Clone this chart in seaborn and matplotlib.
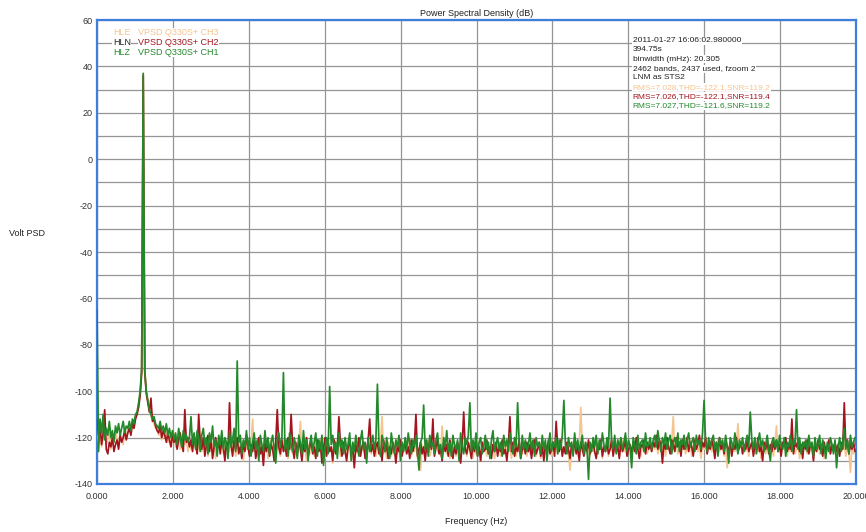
import numpy as np
import pandas as pd
import matplotlib
matplotlib.use("Agg")
import matplotlib.pyplot as plt
import seaborn as sns

# ---------------- data ----------------
BIN_HZ = 0.0406  # 2 x binwidth (fzoom 2)

hlz_ch1 = [  # green
    -65, -126, -112, -118, -110, -121, -116, -119, -113, -120, -117, -122, -115, -118, -114, -119, -116, -113, -118, -115,
    -116, -113, -117, -112, -114, -110, -109, -105, -100, -90, 37, -91, -100, -104, -108, -110, -112, -111, -114, -115,
    -116, -113, -117, -115, -118, -114, -119, -116, -120, -117, -121, -118, -123, -116, -120, -124, -117, -121, -119, -122,
    -120, -111, -123, -118, -125, -117, -121, -126, -119, -116, -123, -120, -127, -118, -122, -115, -124, -121, -128, -119,
    -123, -117, -125, -120, -122, -129, -118, -124, -121, -116, -126, -87, -122, -119, -127, -121, -124, -117, -125, -120,
    -128, -122, -118, -125, -121, -130, -119, -123, -126, -117, -124, -120, -127, -122, -119, -125, -131, -121, -118, -124,
    -120, -92, -125, -121, -128, -118, -123, -126, -120, -124, -129, -119, -122, -127, -117, -125, -121, -130, -123, -119,
    -126, -122, -118, -128, -121, -125, -119, -132, -124, -120, -127, -98, -123, -119, -126, -122, -129, -118, -124, -121,
    -127, -120, -125, -123, -118, -130, -122, -126, -119, -124, -128, -121, -117, -125, -122, -131, -120, -126, -123, -119,
    -125, -121, -97, -124, -128, -119, -122, -126, -120, -125, -129, -118, -123, -127, -121, -124, -119, -130, -122, -126,
    -120, -125, -118, -123, -127, -121, -124, -119, -126, -134, -122, -120, -106, -125, -121, -128, -119, -124, -122, -127,
    -121, -118, -125, -123, -129, -120, -124, -117, -126, -122, -128, -119, -123, -125, -121, -130, -118, -124, -127, -120,
    -123, -119, -105, -126, -121, -125, -118, -128, -122, -120, -127, -124, -119, -125, -122, -129, -121, -117, -126, -123,
    -120, -125, -122, -128, -119, -124, -121, -126, -118, -123, -127, -120, -124, -105, -122, -129, -119, -125, -121, -126,
    -123, -118, -125, -121, -128, -120, -124, -122, -127, -119, -125, -121, -130, -123, -118, -126, -122, -124, -120, -127,
    -121, -125, -119, -104, -123, -127, -120, -124, -122, -128, -118, -125, -121, -126, -123, -119, -127, -122, -124, -138,
    -122, -126, -120, -124, -119, -127, -121, -125, -118, -123, -126, -120, -124, -103, -122, -125, -119, -127, -121, -124,
    -120, -125, -122, -118, -126, -121, -124, -133, -120, -123, -127, -119, -125, -122, -121, -126, -118, -124, -123, -120,
    -125, -121, -119, -124, -117, -122, -126, -120, -123, -118, -125, -121, -119, -127, -122, -120, -124, -118, -126, -121,
    -123, -119, -125, -121, -118, -124, -122, -120, -126, -119, -123, -121, -125, -118, -104, -122, -126, -120, -124, -121,
    -119, -125, -122, -128, -120, -123, -121, -126, -119, -124, -131, -120, -122, -125, -118, -123, -127, -121, -124, -120,
    -126, -122, -119, -124, -109, -121, -125, -120, -127, -122, -118, -124, -121, -126, -123, -119, -125, -130, -122, -120,
    -124, -121, -126, -119, -123, -125, -120, -128, -122, -124, -119, -126, -121, -123, -108, -125, -120, -127, -122, -124,
    -121, -126, -119, -124, -122, -128, -120, -125, -123, -119, -127, -121, -124, -129, -122, -126, -120, -123, -127, -121,
    -133, -124, -120, -126, -122, -116, -125, -121, -127, -119, -124, -122, -120,
]

hln_ch2 = [  # dark red
    -112, -119, -115, -123, -118, -108, -125, -127, -122, -124, -120, -126, -123, -121, -125, -119, -122, -120, -117, -121,
    -118, -116, -119, -114, -116, -112, -110, -107, -102, -92, 36, -92, -101, -105, -109, -103, -113, -112, -115, -117,
    -118, -115, -120, -117, -119, -122, -118, -121, -124, -119, -122, -120, -125, -121, -118, -123, -126, -108, -122, -120,
    -124, -121, -126, -119, -123, -127, -110, -122, -125, -120, -128, -123, -119, -126, -121, -129, -124, -120, -125, -122,
    -127, -121, -124, -130, -122, -126, -105, -123, -128, -121, -125, -120, -127, -124, -129, -122, -126, -119, -124, -128,
    -123, -126, -121, -129, -125, -120, -127, -124, -132, -122, -126, -121, -128, -123, -125, -130, -122, -108, -124, -127,
    -121, -126, -123, -128, -120, -125, -110, -124, -129, -122, -127, -121, -125, -130, -123, -126, -120, -128, -124, -122,
    -127, -124, -129, -121, -126, -123, -131, -125, -120, -128, -122, -126, -124, -130, -121, -127, -125, -111, -123, -128,
    -122, -126, -130, -124, -121, -127, -125, -133, -123, -126, -120, -128, -124, -122, -129, -125, -121, -112, -126, -123,
    -128, -124, -122, -127, -125, -130, -121, -126, -123, -129, -124, -127, -122, -125, -131, -123, -126, -121, -128, -124,
    -122, -127, -124, -129, -121, -126, -123, -110, -128, -125, -122, -127, -124, -130, -123, -126, -121, -125, -112, -128,
    -124, -121, -127, -125, -130, -122, -126, -123, -128, -121, -125, -129, -124, -127, -122, -126, -131, -123, -109, -125,
    -127, -122, -125, -129, -123, -126, -121, -128, -124, -130, -122, -126, -125, -121, -127, -124, -129, -123, -126, -122,
    -128, -124, -126, -121, -127, -125, -130, -123, -111, -126, -122, -128, -124, -126, -121, -129, -125, -123, -127, -122,
    -126, -123, -129, -124, -121, -127, -125, -122, -128, -124, -130, -123, -126, -121, -127, -125, -122, -128, -113, -124,
    -126, -121, -128, -124, -127, -122, -125, -129, -123, -126, -121, -127, -124, -130, -122, -125, -128, -123, -126, -121,
    -127, -124, -122, -126, -129, -123, -125, -121, -128, -124, -126, -122, -127, -125, -121, -128, -123, -126, -124, -129,
    -122, -126, -124, -121, -128, -125, -123, -127, -122, -126, -120, -125, -129, -123, -124, -121, -127, -122, -125, -123,
    -126, -122, -124, -119, -125, -121, -123, -131, -122, -125, -120, -124, -127, -121, -123, -126, -120, -124, -122, -128,
    -121, -125, -123, -120, -126, -122, -124, -128, -121, -125, -123, -119, -126, -122, -124, -120, -127, -123, -125, -121,
    -124, -129, -122, -126, -120, -125, -123, -127, -121, -124, -126, -122, -128, -123, -125, -120, -126, -124, -122, -127,
    -123, -125, -121, -126, -124, -122, -128, -123, -125, -120, -126, -124, -130, -122, -125, -121, -127, -123, -126, -122,
    -125, -121, -126, -123, -128, -122, -124, -120, -126, -123, -125, -112, -127, -122, -124, -121, -126, -123, -129, -122,
    -125, -121, -127, -123, -124, -130, -122, -126, -121, -125, -123, -128, -122, -126, -124, -121, -127, -123, -125, -122,
    -126, -123, -128, -122, -125, -105, -124, -121, -127, -123, -125, -122, -126,
]

hle_ch3 = [  # light orange
    -117, -122, -119, -124, -120, -116, -123, -121, -118, -125, -119, -122, -117, -121, -124, -118, -120, -123, -116, -119,
    -117, -115, -118, -113, -115, -111, -109, -106, -101, -91, 36, -91, -100, -104, -108, -111, -112, -114, -116, -115,
    -119, -116, -121, -118, -120, -117, -122, -119, -123, -120, -118, -124, -121, -119, -125, -122, -120, -123, -121, -126,
    -122, -125, -120, -124, -121, -127, -123, -119, -126, -122, -124, -120, -128, -123, -121, -125, -122, -129, -124, -120,
    -125, -122, -127, -121, -124, -123, -126, -120, -125, -122, -128, -124, -121, -126, -123, -130, -122, -125, -121, -127,
    -123, -112, -125, -122, -128, -124, -121, -127, -123, -126, -122, -129, -124, -121, -126, -123, -127, -122, -125, -128,
    -124, -121, -126, -123, -129, -122, -125, -127, -121, -124, -128, -123, -113, -126, -122, -125, -130, -123, -127, -121,
    -125, -128, -122, -126, -124, -121, -127, -123, -129, -125, -122, -126, -124, -131, -123, -127, -121, -125, -128, -122,
    -126, -123, -128, -121, -125, -130, -124, -122, -127, -125, -121, -128, -123, -126, -124, -129, -122, -125, -127, -123,
    -124, -128, -122, -126, -123, -111, -127, -124, -129, -122, -125, -128, -123, -126, -121, -127, -124, -130, -122, -126,
    -123, -127, -125, -121, -128, -124, -126, -122, -129, -125, -134, -123, -127, -124, -126, -121, -128, -125, -123, -127,
    -122, -126, -124, -128, -115, -125, -121, -127, -123, -129, -124, -126, -122, -128, -125, -123, -127, -121, -126, -124,
    -128, -123, -126, -122, -129, -124, -127, -121, -125, -130, -123, -126, -124, -128, -122, -127, -125, -123, -129, -124,
    -126, -122, -128, -125, -123, -127, -121, -126, -124, -129, -122, -125, -128, -123, -126, -124, -127, -122, -125, -128,
    -123, -127, -124, -126, -121, -128, -125, -123, -129, -122, -126, -124, -127, -125, -122, -128, -124, -126, -123, -127,
    -125, -122, -128, -124, -126, -123, -127, -134, -125, -122, -126, -124, -128, -123, -107, -126, -124, -127, -122, -125,
    -128, -123, -126, -124, -121, -127, -125, -122, -129, -124, -126, -123, -128, -125, -122, -127, -124, -126, -123, -128,
    -124, -121, -126, -123, -128, -122, -125, -127, -123, -126, -121, -125, -124, -128, -122, -126, -123, -127, -125, -122,
    -126, -123, -125, -121, -127, -124, -122, -126, -123, -128, -121, -125, -124, -122, -111, -126, -123, -127, -124, -121,
    -125, -122, -127, -124, -126, -121, -128, -123, -125, -122, -126, -124, -129, -123, -125, -121, -127, -124, -122, -126,
    -123, -127, -124, -121, -126, -125, -122, -128, -124, -133, -125, -122, -127, -124, -126, -123, -114, -125, -122, -127,
    -124, -126, -122, -128, -123, -125, -121, -127, -124, -126, -123, -129, -122, -125, -127, -123, -126, -124, -122, -128,
    -123, -115, -126, -122, -127, -124, -125, -121, -128, -123, -126, -124, -122, -127, -125, -123, -129, -124, -126, -122,
    -125, -127, -123, -126, -122, -128, -124, -126, -121, -127, -125, -123, -129, -124, -126, -122, -127, -125, -123, -126,
    -124, -127, -122, -126, -125, -123, -128, -124, -126, -135, -123, -127, -124,
]

series_names = ["HLE", "HLN", "HLZ"]
series_desc = ["VPSD Q330S+ CH3", "VPSD Q330S+ CH2", "VPSD Q330S+ CH1"]
series_values = [hle_ch3, hln_ch2, hlz_ch1]

x_ticks = [0, 2, 4, 6, 8, 10, 12, 14, 16, 18, 20]
x_tick_labels = ["0.000", "2.000", "4.000", "6.000", "8.000", "10.000",
                 "12.000", "14.000", "16.000", "18.000", "20.000"]
y_ticks = [60, 40, 20, 0, -20, -40, -60, -80, -100, -120, -140]

info_lines = ["2011-01-27 16:06:02.980000", "394.75s", "binwidth (mHz): 20.305",
              "2462 bands, 2437 used, fzoom 2", "LNM as STS2"]
stat_lines = ["RMS=7.028,THD=-122.1,SNR=119.2",
              "RMS=7.026,THD=-122.1,SNR=119.4",
              "RMS=7.027,THD=-121.6,SNR=119.2"]

# ---------------- style ----------------
sns.set_style("white")
plt.rcParams["font.family"] = ["Liberation Sans", "DejaVu Sans"]
plt.rcParams["axes.unicode_minus"] = False

colors = ["#f6c48e", "#a3141e", "#23882a"]
name_colors = ["#f6c48e", "#222222", "#23882a"]
text_colors = ["#f6c48e", "#a3141e", "#23882a"]

fig = plt.figure(figsize=(8.66, 5.32), dpi=100)
ax = fig.add_axes([97 / 866, 48 / 532, 759 / 866, 464 / 532])

frames = []
for name, vals in zip(series_names, series_values):
    frames.append(pd.DataFrame({"freq": np.arange(len(vals)) * BIN_HZ,
                                "psd": vals, "chan": name}))
df = pd.concat(frames, ignore_index=True)

for name, col in zip(series_names, colors):
    sub = df[df["chan"] == name]
    sns.lineplot(data=sub, x="freq", y="psd", color=col, lw=1.25,
                 estimator=None, sort=False, ax=ax, legend=False, zorder=3)

ax.set_xlim(0, 20)
ax.set_ylim(-140, 60)
ax.set_xticks(x_ticks)
ax.set_xticklabels(x_tick_labels)
ax.set_yticks(y_ticks)
ax.set_yticks(np.arange(-130, 60, 20), minor=True)
ax.grid(True, which="both", color="#959595", lw=0.9, zorder=0)
ax.set_axisbelow(True)
ax.tick_params(axis="both", which="both", labelsize=6.5, colors="#333333",
               length=0, pad=3)
ax.tick_params(axis="x", pad=6)
for sp in ax.spines.values():
    sp.set_color("#3f7fdc")
    sp.set_linewidth(1.6)

ax.set_title("Power Spectral Density (dB)", fontsize=6.5, color="#222222", pad=3)
ax.set_xlabel("Frequency (Hz)", fontsize=6.5, color="#222222")
ax.xaxis.set_label_coords(0.5, -0.072)
ax.set_ylabel("Volt PSD", fontsize=6.5, color="#222222", rotation=0,
              ha="center", va="center")
ax.yaxis.set_label_coords(-0.092, 0.539)

bbox = dict(facecolor="white", edgecolor="none", pad=0.4)
leg_y = [0.972, 0.952, 0.931]
for name, desc, nc, tc, yy in zip(series_names, series_desc, name_colors, text_colors, leg_y):
    ax.text(0.021, yy, name, color=nc, fontsize=6.5, transform=ax.transAxes,
            ha="left", va="center", bbox=bbox, zorder=5)
    ax.text(0.0545, yy, desc, color=tc, fontsize=6.5, transform=ax.transAxes,
            ha="left", va="center", bbox=bbox, zorder=5)

info_y0 = (484 - 40.7) / 464
step = 9.3 / 464
for k, line in enumerate(info_lines):
    ax.text(0.706, info_y0 - k * step, line, color="#222222", fontsize=6,
            transform=ax.transAxes, ha="left", va="center", bbox=bbox, zorder=5)
for k, (line, c) in enumerate(zip(stat_lines, text_colors)):
    ax.text(0.706, info_y0 - (k + len(info_lines)) * step, line, color=c,
            fontsize=6, transform=ax.transAxes, ha="left", va="center",
            bbox=bbox, zorder=5)

fig.savefig("out.png", dpi=100)
